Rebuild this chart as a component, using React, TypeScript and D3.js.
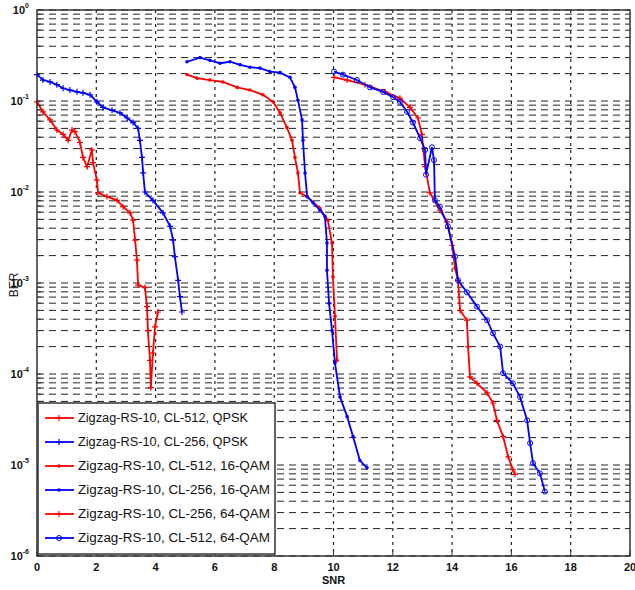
import * as d3 from "d3";

// SNR (dB) and BER values
const snrQpsk512 = [0, 0.2, 0.44, 0.67, 0.88, 1.05, 1.18, 1.28, 1.45, 1.55, 1.69, 1.85, 1.89, 2.02, 2.06, 2.36, 2.7, 2.9, 3.14, 3.24, 3.31, 3.37, 3.41, 3.64, 3.71, 3.74, 3.81, 3.84, 3.91, 3.98, 4.08];
const berQpsk512 = [9.8e-2, 7.6e-2, 6.2e-2, 4.8e-2, 4.3e-2, 3.7e-2, 4.8e-2, 4.6e-2, 3.5e-2, 2.4e-2, 1.9e-2, 2.9e-2, 2.1e-2, 1.35e-2, 9.8e-3, 8.9e-3, 8.1e-3, 6.9e-3, 5.9e-3, 4.9e-3, 2.95e-3, 1.78e-3, 9.5e-4, 8.9e-4, 5.5e-4, 3.0e-4, 1.41e-4, 7.1e-5, 1.7e-4, 3.3e-4, 4.8e-4];

const snrQpsk256 = [0, 0.2, 0.44, 0.67, 0.88, 1.11, 1.35, 1.55, 1.79, 2.02, 2.23, 2.53, 2.8, 3.04, 3.24, 3.41, 3.47, 3.54, 3.58, 3.64, 3.91, 4.25, 4.49, 4.59, 4.65, 4.76, 4.82, 4.89];
const berQpsk256 = [1.95e-1, 1.7e-1, 1.62e-1, 1.51e-1, 1.38e-1, 1.32e-1, 1.26e-1, 1.23e-1, 1.17e-1, 9.8e-2, 8.5e-2, 7.9e-2, 7.4e-2, 6.5e-2, 5.8e-2, 5.0e-2, 3.7e-2, 2.4e-2, 1.62e-2, 1.0e-2, 8.1e-3, 5.9e-3, 4.2e-3, 2.95e-3, 1.95e-3, 1.07e-3, 7.1e-4, 4.8e-4];

const snrQam16_512 = [5.06, 5.4, 5.83, 6.27, 6.75, 7.18, 7.62, 7.96, 8.2, 8.43, 8.6, 8.7, 8.8, 8.87, 9.11, 9.54, 9.81, 9.95, 9.98, 10.05, 10.12];
const berQam16_512 = [1.95e-1, 1.78e-1, 1.7e-1, 1.62e-1, 1.41e-1, 1.32e-1, 1.17e-1, 9.8e-2, 7.4e-2, 5.1e-2, 3.7e-2, 2.4e-2, 1.62e-2, 9.8e-3, 8.9e-3, 6.6e-3, 4.9e-3, 2.75e-3, 1.17e-3, 4.3e-4, 1.41e-4];

const snrQam16_256 = [5.06, 5.5, 5.83, 6.17, 6.51, 6.85, 7.18, 7.52, 7.86, 8.2, 8.53, 8.7, 8.8, 8.94, 8.97, 9.04, 9.11, 9.31, 9.54, 9.71, 9.78, 9.78, 9.85, 9.95, 10.05, 10.22, 10.46, 10.66, 10.89, 11.13];
const berQam16_256 = [2.7e-1, 3.0e-1, 2.8e-1, 2.6e-1, 2.7e-1, 2.5e-1, 2.35e-1, 2.3e-1, 2.1e-1, 2.05e-1, 1.82e-1, 1.41e-1, 1.02e-1, 6.2e-2, 3.7e-2, 1.62e-2, 8.9e-3, 7.6e-3, 6.3e-3, 5.4e-3, 2.75e-3, 1.38e-3, 6.0e-4, 3.0e-4, 1.32e-4, 5.6e-5, 3.4e-5, 2.05e-5, 1.12e-5, 9.3e-6];

const snrQam64_256 = [10.02, 10.46, 11.06, 11.74, 12.24, 12.58, 12.85, 12.98, 13.09, 13.25, 13.59, 13.83, 14.0, 14.1, 14.2, 14.27, 14.5, 14.54, 14.6, 14.84, 15.18, 15.38, 15.51, 15.72, 15.89, 16.05, 16.12];
const berQam64_256 = [1.82e-1, 1.7e-1, 1.51e-1, 1.26e-1, 1.07e-1, 8.5e-2, 6.5e-2, 4.3e-2, 1.9e-2, 9.8e-3, 6.3e-3, 4.7e-3, 2.6e-3, 1.45e-3, 1.07e-3, 5.0e-4, 3.9e-4, 2.0e-4, 9.3e-5, 7.9e-5, 6.2e-5, 4.8e-5, 3.1e-5, 2.05e-5, 1.23e-5, 8.9e-6, 7.9e-6];

const snrQam64_512 = [10.02, 10.32, 10.79, 11.23, 11.67, 12.01, 12.24, 12.48, 12.68, 12.92, 13.09, 13.12, 13.32, 13.39, 13.42, 13.59, 13.86, 14.1, 14.2, 14.5, 14.84, 15.18, 15.38, 15.62, 15.72, 16.05, 16.29, 16.53, 16.63, 16.73, 16.96, 17.13];
const berQam64_512 = [2.1e-1, 1.95e-1, 1.7e-1, 1.41e-1, 1.26e-1, 1.1e-1, 9.8e-2, 7.6e-2, 5.8e-2, 3.9e-2, 2.9e-2, 1.55e-2, 3.1e-2, 2.24e-2, 8.1e-3, 6.9e-3, 4.2e-3, 1.95e-3, 1.07e-3, 7.9e-4, 5.5e-4, 3.9e-4, 2.8e-4, 2.0e-4, 1.02e-4, 7.9e-5, 5.6e-5, 3.1e-5, 1.74e-5, 1.05e-5, 8.1e-6, 5.1e-6];

const legendNames = [
  "Zigzag-RS-10, CL-512, QPSK",
  "Zigzag-RS-10, CL-256, QPSK",
  "Zigzag-RS-10, CL-512, 16-QAM",
  "Zigzag-RS-10, CL-256, 16-QAM",
  "Zigzag-RS-10, CL-256, 64-QAM",
  "Zigzag-RS-10, CL-512, 64-QAM",
];
const xTicks = [0, 2, 4, 6, 8, 10, 12, 14, 16, 18, 20];
const yExps = [0, -1, -2, -3, -4, -5, -6];

const series = [
  { name: legendNames[0], x: snrQpsk512, y: berQpsk512, color: "#ff0000", marker: "plus" },
  { name: legendNames[1], x: snrQpsk256, y: berQpsk256, color: "#0000ff", marker: "plus" },
  { name: legendNames[2], x: snrQam16_512, y: berQam16_512, color: "#ff0000", marker: "dot" },
  { name: legendNames[3], x: snrQam16_256, y: berQam16_256, color: "#0000ff", marker: "dot" },
  { name: legendNames[4], x: snrQam64_256, y: berQam64_256, color: "#ff0000", marker: "plus" },
  { name: legendNames[5], x: snrQam64_512, y: berQam64_512, color: "#0000ff", marker: "circle" },
];

const W = 635, H = 590;
const margin = { top: 10, right: 5, bottom: 34, left: 37 };

const Marker = ({ type, cx, cy, color }) => {
  if (type === "circle") {
    return <circle cx={cx} cy={cy} r={2.5} fill="none" stroke={color} strokeWidth={1} />;
  }
  if (type === "dot") {
    return <circle cx={cx} cy={cy} r={1.8} fill={color} />;
  }
  return (
    <path d={`M${cx - 3},${cy}H${cx + 3}M${cx},${cy - 3}V${cy + 3}`} stroke={color} strokeWidth={1.2} />
  );
};

export default function App() {
  const x = d3.scaleLinear().domain([0, 20]).range([margin.left, W - margin.right]);
  const y = d3.scaleLog().domain([1e-6, 1]).range([H - margin.bottom, margin.top]);

  const minorVals = [];
  for (let e = -6; e < 0; e++) {
    for (let m = 1; m < 10; m++) minorVals.push(m * Math.pow(10, e));
  }
  minorVals.push(1);

  const line = d3.line().x((d) => x(d[0])).y((d) => y(d[1]));

  const x0 = x(0), x1 = x(20), yTop = y(1), yBot = y(1e-6);

  const legX = 38, legY = 403, legW = 237, legH = 151, rowH = 24;

  return (
    <svg width={W} height={H} style={{ position: "absolute", left: 0, top: 0, background: "#fff" }}
      fontFamily="'Liberation Sans', Arial, sans-serif">
      {/* horizontal grid (major + minor, log) */}
      {minorVals.map((v, i) => (
        <line key={"hg" + i} x1={x0} x2={x1} y1={y(v)} y2={y(v)} stroke="#222" strokeWidth={1}
          strokeDasharray="7,5" />
      ))}
      {/* vertical grid */}
      {xTicks.slice(1, -1).map((t) => (
        <line key={"vg" + t} x1={x(t)} x2={x(t)} y1={yTop} y2={yBot} stroke="#222" strokeWidth={1.2}
          strokeDasharray="3,4" />
      ))}

      {/* series */}
      {series.map((s, i) => {
        const pts = s.x.map((v, j) => [v, s.y[j]]);
        return (
          <g key={"s" + i}>
            <path d={line(pts)} fill="none" stroke={s.color} strokeWidth={1.8} />
            {pts.map((p, j) => (
              <Marker key={j} type={s.marker} cx={x(p[0])} cy={y(p[1])} color={s.color} />
            ))}
          </g>
        );
      })}

      {/* axes box */}
      <rect x={x0} y={yTop} width={x1 - x0} height={yBot - yTop} fill="none" stroke="#333" strokeWidth={1.5} />
      {minorVals.map((v, i) => (
        <line key={"yt" + i} x1={x0} x2={x0 + 4} y1={y(v)} y2={y(v)} stroke="#333" strokeWidth={1} />
      ))}
      {xTicks.map((t) => (
        <line key={"xt" + t} x1={x(t)} x2={x(t)} y1={yBot} y2={yBot - 5} stroke="#333" strokeWidth={1} />
      ))}

      {/* tick labels */}
      {xTicks.map((t) => (
        <text key={"xl" + t} x={x(t)} y={yBot + 15} textAnchor="middle" fontSize={11} fontWeight="bold" fill="#111">
          {t}
        </text>
      ))}
      {yExps.map((e) => (
        <text key={"yl" + e} x={x0 - 8} y={y(Math.pow(10, e)) + 4} textAnchor="end" fontSize={11} fontWeight="bold" fill="#111">
          10
          <tspan dy={-6} fontSize={7}>{e}</tspan>
        </text>
      ))}
      {/* hack: superscripts stick out to the right of "10" */}

      {/* axis labels */}
      <text x={x(10)} y={H - 6} textAnchor="middle" fontSize={11} fontWeight="bold" fill="#111">SNR</text>
      <text transform={`translate(18, ${y(1e-3) + 2}) rotate(-90)`} textAnchor="middle" fontSize={12} fill="#111">BER</text>

      {/* legend */}
      <rect x={legX} y={legY} width={legW} height={legH} fill="#fff" stroke="#333" strokeWidth={1.5} />
      {series.map((s, i) => {
        const ly = legY + 15 + i * rowH;
        return (
          <g key={"lg" + i}>
            <line x1={legX + 7} x2={legX + 36} y1={ly} y2={ly} stroke={s.color} strokeWidth={1.8} />
            <Marker type={s.marker} cx={legX + 21} cy={ly} color={s.color} />
            <text x={legX + 40} y={ly + 4} fontSize={12} fill="#111"
              textLength={i < 2 ? 170 : 192} lengthAdjust="spacingAndGlyphs">
              {s.name}
            </text>
          </g>
        );
      })}
    </svg>
  );
}
